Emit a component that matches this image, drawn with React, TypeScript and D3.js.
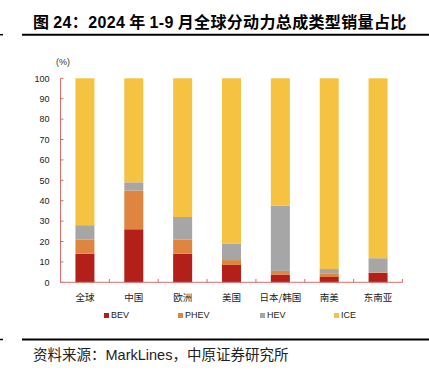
import React from "react";
import * as d3 from "d3";

const categories = ["全球", "中国", "欧洲", "美国", "日本/韩国", "南美", "东南亚"];
const seriesNames = ["BEV", "PHEV", "HEV", "ICE"];
const bev = [14, 26, 14, 8.5, 3.8, 2.6, 4.6];
const phev = [7, 19, 7, 2.4, 1.8, 1.8, 0.3];
const hev = [7, 4, 11, 8, 32, 2.1, 6.9];
const ice = [72, 51, 68, 81.1, 62.4, 93.5, 88.2];
const yTicks = [0, 10, 20, 30, 40, 50, 60, 70, 80, 90, 100];
const colors = ["#B3201A", "#E08540", "#A6A6A6", "#F5C242"];

const W = 429;
const H = 371;
const axisColor = "#DC6B6B";

export default function App() {
  const x = d3.scaleBand<string>().domain(categories).range([60.5, 402.5]).paddingInner(0).paddingOuter(0);
  const y = d3.scaleLinear().domain([0, 100]).range([282.3, 78.3]);
  const barW = 19;
  const data = categories.map((c, i) => ({ c, vals: [bev[i], phev[i], hev[i], ice[i]] }));
  const stackGen = d3.stack<any>().keys(["0", "1", "2", "3"]).value((d, k) => d.vals[+k]);
  const stacked = stackGen(data as any);
  const legendX = [104, 178, 260, 334];
  const cjk = "'Noto Sans CJK SC', 'Noto Sans', sans-serif";
  const lat = "'Liberation Sans', Arial, sans-serif";
  return (
    <svg width={W} height={H} style={{ position: "absolute", left: 0, top: 0, background: "#fff" }}>
      <text x={33} y={28} fontFamily={cjk} fontWeight="bold" fontSize={16} letterSpacing={0.35} fill="#000">
        图 <tspan fontFamily={lat}>24</tspan>：<tspan fontFamily={lat}>2024</tspan> 年 <tspan fontFamily={lat}>1-9</tspan> 月全球分动力总成类型销量占比
      </text>
      <line x1={22} x2={429} y1={34.7} y2={34.7} stroke="#000" strokeWidth={2} />
      <line x1={0} x2={3} y1={34.7} y2={34.7} stroke="#000" strokeWidth={1.5} />
      <text x={56} y={65} fontFamily={lat} fontSize={9} fill="#333">(%)</text>
      {stacked.map((s, si) =>
        s.map((d, i) => (
          <rect
            key={si + "-" + i}
            x={(x(categories[i]) as number) + x.bandwidth() / 2 - barW / 2}
            y={y(d[1])}
            width={barW}
            height={y(d[0]) - y(d[1])}
            fill={colors[si]}
          />
        ))
      )}
      <line x1={60.5} x2={60.5} y1={78.3} y2={282.3} stroke={axisColor} strokeWidth={1} />
      {yTicks.map((t) => (
        <g key={t}>
          <line x1={60.5} x2={63.5} y1={y(t)} y2={y(t)} stroke={axisColor} />
          <text x={49.5} y={y(t) + 3.2} textAnchor="end" fontFamily={lat} fontSize={9} fill="#222">
            {t}
          </text>
        </g>
      ))}
      <line x1={60.5} x2={402.5} y1={282.3} y2={282.3} stroke={axisColor} strokeWidth={1} />
      {categories.map((c, i) => (
        <line
          key={c}
          x1={(x(c) as number) + x.bandwidth()}
          x2={(x(c) as number) + x.bandwidth()}
          y1={282.3}
          y2={279}
          stroke={axisColor}
        />
      ))}
      {categories.map((c) => (
        <text
          key={c}
          x={(x(c) as number) + x.bandwidth() / 2}
          y={300.5}
          textAnchor="middle"
          fontFamily={cjk}
          fontSize={9.5}
          fill="#222"
        >
          {c}
        </text>
      ))}
      {seriesNames.map((n, i) => (
        <g key={n}>
          <rect x={legendX[i]} y={313} width={5} height={5} fill={colors[i]} />
          <text x={legendX[i] + 7} y={318.3} fontFamily={lat} fontSize={9} fill="#222">
            {n}
          </text>
        </g>
      ))}
      <line x1={22} x2={429} y1={339.5} y2={339.5} stroke="#000" strokeWidth={2} />
      <line x1={0} x2={3} y1={339.5} y2={339.5} stroke="#000" strokeWidth={1.5} />
      <text x={33} y={360} fontFamily={cjk} fontSize={14.5} fill="#222">
        资料来源：<tspan fontFamily={lat}>MarkLines</tspan>，中原证券研究所
      </text>
    </svg>
  );
}
